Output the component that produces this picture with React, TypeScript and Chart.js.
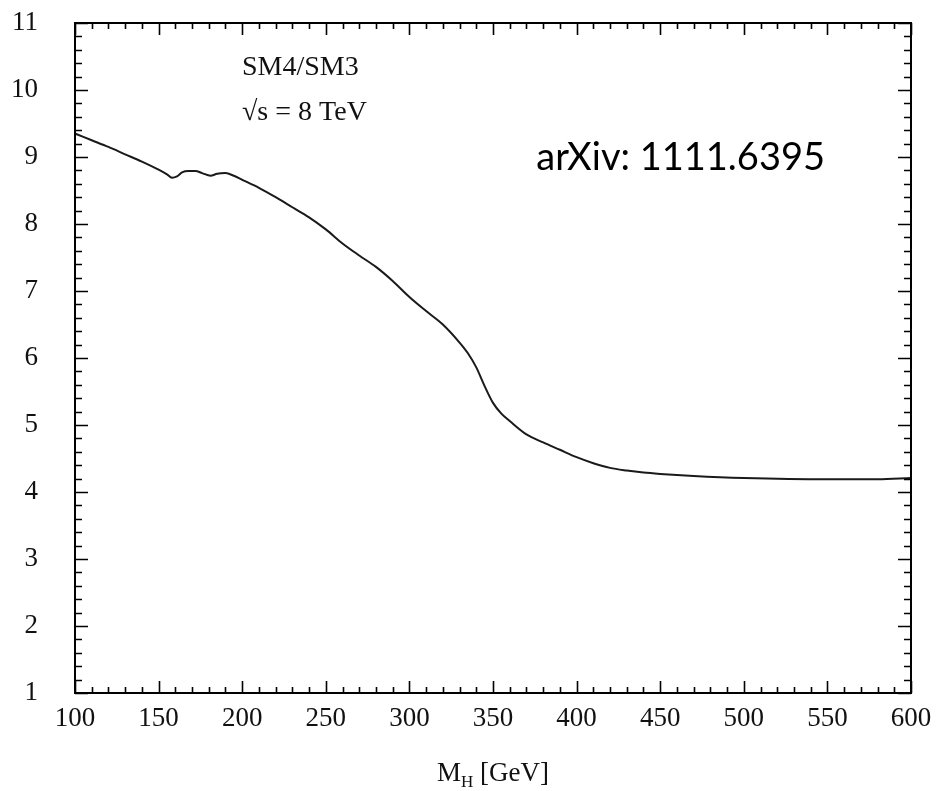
import React, { useEffect, useRef } from "react";
import { Chart, registerables } from "chart.js";

Chart.register(...registerables);

const massGeV = [100, 110, 120, 130, 140, 150, 155, 158, 161, 164, 168, 172, 176, 181, 185, 190, 195, 200, 210, 220, 230, 240, 250, 260, 270, 280, 290, 300, 310, 320, 330, 335, 340, 345, 350, 355, 360, 370, 380, 390, 400, 410, 420, 430, 440, 450, 470, 500, 550, 580, 600];
const ratioSM4SM3 = [9.35, 9.25, 9.15, 9.04, 8.93, 8.81, 8.74, 8.69, 8.71, 8.77, 8.79, 8.79, 8.76, 8.72, 8.75, 8.76, 8.72, 8.66, 8.54, 8.40, 8.25, 8.10, 7.92, 7.71, 7.53, 7.36, 7.15, 6.91, 6.70, 6.50, 6.23, 6.07, 5.86, 5.58, 5.33, 5.17, 5.06, 4.86, 4.74, 4.63, 4.52, 4.43, 4.36, 4.32, 4.29, 4.27, 4.24, 4.21, 4.19, 4.19, 4.21];

const xRange = [100, 600];
const yRange = [1, 11];
const xMajorStep = 50;
const xMinorStep = 10;
const yMajorStep = 1;
const yMinorStep = 0.2;

const labelLine1 = "SM4/SM3";
const labelLine2 = "√s = 8 TeV";
const sourceNote = "arXiv: 1111.6395";
const xTitleMain = "M";
const xTitleSub = "H";
const xTitleRest = " [GeV]";

const SERIF = "'Liberation Serif', 'Times New Roman', serif";
const INK = "#111";

const framePlugin = {
  id: "framePlugin",
  afterDraw(chart: any) {
    const { ctx, chartArea, scales } = chart;
    const { left, right, top, bottom } = chartArea;
    const xs = scales.x;
    const ys = scales.y;
    ctx.save();
    ctx.strokeStyle = "#000";
    ctx.lineWidth = 2;
    ctx.strokeRect(left, top, right - left, bottom - top);
    ctx.lineWidth = 1.6;
    ctx.beginPath();
    for (let i = 0; ; i++) {
      const v = xRange[0] + i * xMinorStep;
      if (v > xRange[1] + 1e-6) break;
      const px = Math.round(xs.getPixelForValue(v)) + 0.5;
      const major = Math.abs(v / xMajorStep - Math.round(v / xMajorStep)) < 1e-6;
      const len = major ? 12 : 6;
      ctx.moveTo(px, bottom);
      ctx.lineTo(px, bottom - len);
      ctx.moveTo(px, top);
      ctx.lineTo(px, top + len);
    }
    for (let i = 0; ; i++) {
      const v = yRange[0] + i * yMinorStep;
      if (v > yRange[1] + 1e-6) break;
      const py = Math.round(ys.getPixelForValue(v)) + 0.5;
      const major = Math.abs(v / yMajorStep - Math.round(v / yMajorStep)) < 1e-6;
      const len = major ? 13 : 7;
      ctx.moveTo(left, py);
      ctx.lineTo(left + len, py);
      ctx.moveTo(right, py);
      ctx.lineTo(right - len, py);
    }
    ctx.stroke();

    ctx.fillStyle = INK;
    ctx.textAlign = "left";
    ctx.textBaseline = "middle";
    ctx.font = `28px ${SERIF}`;
    ctx.fillText(labelLine1, 242, 68);
    ctx.fillText(labelLine2, 242, 113);

    ctx.font = "38px Lato, 'Open Sans', sans-serif";
    ctx.textAlign = "right";
    ctx.textBaseline = "alphabetic";
    ctx.fillStyle = "#000";
    ctx.fillText(sourceNote, 825, 170);

    ctx.fillStyle = INK;
    ctx.textAlign = "left";
    ctx.textBaseline = "alphabetic";
    ctx.font = `27px ${SERIF}`;
    const wM = ctx.measureText(xTitleMain).width;
    ctx.font = `17px ${SERIF}`;
    const wH = ctx.measureText(xTitleSub).width;
    ctx.font = `27px ${SERIF}`;
    const wR = ctx.measureText(xTitleRest).width;
    const total = wM + wH + wR;
    const cx = (left + right) / 2;
    let x0 = cx - total / 2;
    const base = 781;
    ctx.fillText(xTitleMain, x0, base);
    x0 += wM;
    ctx.font = `17px ${SERIF}`;
    ctx.fillText(xTitleSub, x0, base + 6);
    x0 += wH;
    ctx.font = `27px ${SERIF}`;
    ctx.fillText(xTitleRest, x0, base);
    ctx.restore();
  },
};

export default function App() {
  const canvasRef = useRef<HTMLCanvasElement | null>(null);

  useEffect(() => {
    if (!canvasRef.current) return;
    const points = massGeV.map((m, i) => ({ x: m, y: ratioSM4SM3[i] }));
    const chart = new Chart(canvasRef.current, {
      type: "line",
      data: {
        datasets: [
          {
            data: points,
            borderColor: "#1a1a1a",
            borderWidth: 2,
            pointRadius: 0,
            fill: false,
            cubicInterpolationMode: "monotone",
          },
        ],
      },
      options: {
        animation: false,
        responsive: true,
        maintainAspectRatio: false,
        layout: { padding: { top: 23, right: 25, left: 0, bottom: 0 } },
        plugins: {
          legend: { display: false },
          tooltip: { enabled: false },
        },
        scales: {
          x: {
            type: "linear",
            min: xRange[0],
            max: xRange[1],
            grid: { display: false, drawTicks: false },
            border: { display: false },
            ticks: {
              stepSize: xMajorStep,
              padding: 10,
              color: INK,
              font: { family: SERIF, size: 27 },
              maxRotation: 0,
            },
            afterFit(scale: any) {
              scale.height = 98;
              scale.paddingLeft = 0;
              scale.paddingRight = 0;
            },
          },
          y: {
            type: "linear",
            min: yRange[0],
            max: yRange[1],
            grid: { display: false, drawTicks: false },
            border: { display: false },
            ticks: {
              stepSize: yMajorStep,
              padding: 37,
              color: INK,
              font: { family: SERIF, size: 27 },
            },
            afterFit(scale: any) {
              scale.width = 75;
              scale.paddingTop = 0;
              scale.paddingBottom = 0;
            },
          },
        },
      },
      plugins: [framePlugin],
    });
    return () => chart.destroy();
  }, []);

  return (
    <div style={{ position: "fixed", left: 0, top: 0, width: 936, height: 791, background: "#fff" }}>
      <canvas ref={canvasRef} />
    </div>
  );
}
